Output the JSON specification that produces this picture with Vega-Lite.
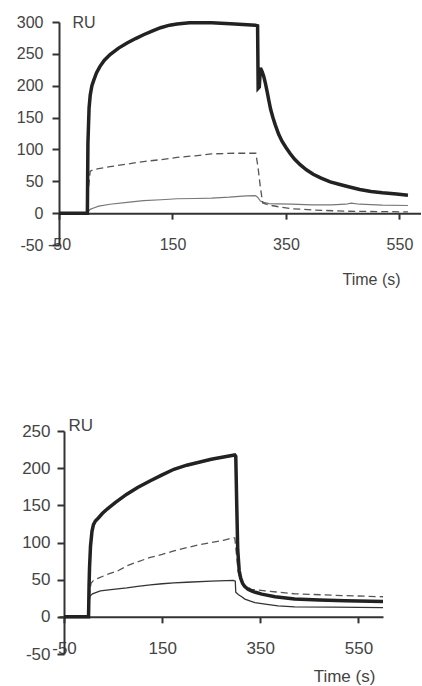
{
  "$schema": "https://vega.github.io/schema/vega-lite/v6.json",
  "background": "white",
  "padding": {"left": 0, "top": 14, "right": 0, "bottom": 0},
  "bounds": "flush",
  "spacing": 186,
  "config": {
    "view": {"stroke": null},
    "axis": {"grid": false, "domainColor": "#333", "domainWidth": 2, "tickColor": "#333", "tickWidth": 2, "labelColor": "#444", "titleColor": "#444", "labelFont": "Liberation Sans", "titleFont": "Liberation Sans", "titleFontWeight": "normal", "labelFlush": false, "labelOverlap": false, "labelExpr": "'' + datum.value"}
  },
  "datasets": {
    "A": [
      {"s":"high","t":-50,"ru":0},{"s":"high","t":-20,"ru":0},{"s":"high","t":0,"ru":0},{"s":"high","t":1,"ru":110},{"s":"high","t":3,"ru":165},{"s":"high","t":5,"ru":185},{"s":"high","t":8,"ru":200},{"s":"high","t":11,"ru":208},{"s":"high","t":16,"ru":220},{"s":"high","t":22,"ru":230},{"s":"high","t":30,"ru":240},{"s":"high","t":40,"ru":249},{"s":"high","t":55,"ru":259},{"s":"high","t":70,"ru":267},{"s":"high","t":85,"ru":274},{"s":"high","t":99,"ru":280},{"s":"high","t":115,"ru":286},{"s":"high","t":129,"ru":291},{"s":"high","t":145,"ru":295},{"s":"high","t":158,"ru":297},{"s":"high","t":180,"ru":299},{"s":"high","t":219,"ru":299},{"s":"high","t":260,"ru":297},{"s":"high","t":296,"ru":295},{"s":"high","t":300,"ru":294},{"s":"high","t":301,"ru":196},{"s":"high","t":303,"ru":198},{"s":"high","t":305,"ru":228},{"s":"high","t":308,"ru":222},{"s":"high","t":311,"ru":214},{"s":"high","t":314,"ru":203},{"s":"high","t":317,"ru":190},{"s":"high","t":320,"ru":176},{"s":"high","t":323,"ru":163},{"s":"high","t":327,"ru":150},{"s":"high","t":331,"ru":139},{"s":"high","t":337,"ru":124},{"s":"high","t":343,"ru":113},{"s":"high","t":350,"ru":103},{"s":"high","t":357,"ru":94},{"s":"high","t":365,"ru":85},{"s":"high","t":375,"ru":76},{"s":"high","t":386,"ru":68},{"s":"high","t":398,"ru":61},{"s":"high","t":412,"ru":55},{"s":"high","t":428,"ru":49},{"s":"high","t":445,"ru":45},{"s":"high","t":462,"ru":41},{"s":"high","t":480,"ru":37},{"s":"high","t":500,"ru":34},{"s":"high","t":520,"ru":32},{"s":"high","t":545,"ru":30},{"s":"high","t":565,"ru":28},
      {"s":"mid","t":-50,"ru":0},{"s":"mid","t":0,"ru":0},{"s":"mid","t":2,"ru":40},{"s":"mid","t":5,"ru":66},{"s":"mid","t":10,"ru":68},{"s":"mid","t":20,"ru":70},{"s":"mid","t":40,"ru":73},{"s":"mid","t":70,"ru":77},{"s":"mid","t":99,"ru":81},{"s":"mid","t":130,"ru":84},{"s":"mid","t":158,"ru":87.5},{"s":"mid","t":190,"ru":90},{"s":"mid","t":219,"ru":93},{"s":"mid","t":260,"ru":94},{"s":"mid","t":297,"ru":94},{"s":"mid","t":301,"ru":70},{"s":"mid","t":305,"ru":40},{"s":"mid","t":309,"ru":16},{"s":"mid","t":315,"ru":14},{"s":"mid","t":325,"ru":12},{"s":"mid","t":337,"ru":10},{"s":"mid","t":360,"ru":7},{"s":"mid","t":396,"ru":5},{"s":"mid","t":455,"ru":3},{"s":"mid","t":565,"ru":2},
      {"s":"low","t":-50,"ru":0},{"s":"low","t":0,"ru":0},{"s":"low","t":2,"ru":3},{"s":"low","t":5,"ru":6},{"s":"low","t":11,"ru":8},{"s":"low","t":20,"ru":11},{"s":"low","t":40,"ru":14},{"s":"low","t":70,"ru":17},{"s":"low","t":99,"ru":19.5},{"s":"low","t":130,"ru":21},{"s":"low","t":158,"ru":22.6},{"s":"low","t":190,"ru":23},{"s":"low","t":219,"ru":23.6},{"s":"low","t":250,"ru":25},{"s":"low","t":280,"ru":27},{"s":"low","t":296,"ru":27.5},{"s":"low","t":300,"ru":25},{"s":"low","t":305,"ru":19},{"s":"low","t":311,"ru":17},{"s":"low","t":320,"ru":15},{"s":"low","t":337,"ru":14.5},{"s":"low","t":360,"ru":14},{"s":"low","t":396,"ru":13},{"s":"low","t":430,"ru":13},{"s":"low","t":455,"ru":14},{"s":"low","t":465,"ru":15.7},{"s":"low","t":480,"ru":14},{"s":"low","t":520,"ru":12.5},{"s":"low","t":565,"ru":12}
    ],
    "B": [
      {"s":"high","t":-50,"ru":0},{"s":"high","t":0,"ru":0},{"s":"high","t":1,"ru":40},{"s":"high","t":2,"ru":66},{"s":"high","t":4,"ru":95},{"s":"high","t":7,"ru":115},{"s":"high","t":10,"ru":124},{"s":"high","t":14,"ru":129},{"s":"high","t":20,"ru":133},{"s":"high","t":28,"ru":139},{"s":"high","t":38,"ru":145},{"s":"high","t":55,"ru":154},{"s":"high","t":78,"ru":165},{"s":"high","t":100,"ru":174},{"s":"high","t":126,"ru":183},{"s":"high","t":150,"ru":191},{"s":"high","t":174,"ru":198.5},{"s":"high","t":200,"ru":204},{"s":"high","t":225,"ru":208},{"s":"high","t":250,"ru":212},{"s":"high","t":275,"ru":215},{"s":"high","t":298,"ru":217.7},{"s":"high","t":300,"ru":216},{"s":"high","t":302,"ru":150},{"s":"high","t":304,"ru":90},{"s":"high","t":307,"ru":62},{"s":"high","t":310,"ru":52},{"s":"high","t":314,"ru":45},{"s":"high","t":318,"ru":41},{"s":"high","t":325,"ru":37},{"s":"high","t":333,"ru":34.5},{"s":"high","t":340,"ru":33},{"s":"high","t":353,"ru":30.5},{"s":"high","t":380,"ru":27},{"s":"high","t":420,"ru":24},{"s":"high","t":470,"ru":22.5},{"s":"high","t":523,"ru":21.5},{"s":"high","t":600,"ru":20.6},
      {"s":"mid","t":-50,"ru":0},{"s":"mid","t":0,"ru":0},{"s":"mid","t":2,"ru":30},{"s":"mid","t":5,"ru":45},{"s":"mid","t":10,"ru":49},{"s":"mid","t":20,"ru":52},{"s":"mid","t":38,"ru":57},{"s":"mid","t":60,"ru":62},{"s":"mid","t":78,"ru":68.5},{"s":"mid","t":100,"ru":74},{"s":"mid","t":126,"ru":80},{"s":"mid","t":150,"ru":84},{"s":"mid","t":174,"ru":88.7},{"s":"mid","t":200,"ru":93},{"s":"mid","t":225,"ru":97},{"s":"mid","t":250,"ru":100},{"s":"mid","t":275,"ru":103},{"s":"mid","t":295,"ru":106.6},{"s":"mid","t":298,"ru":106},{"s":"mid","t":302,"ru":80},{"s":"mid","t":305,"ru":60},{"s":"mid","t":309,"ru":50},{"s":"mid","t":315,"ru":44},{"s":"mid","t":332,"ru":37},{"s":"mid","t":360,"ru":35},{"s":"mid","t":420,"ru":31},{"s":"mid","t":500,"ru":29},{"s":"mid","t":600,"ru":27},
      {"s":"low","t":-50,"ru":0},{"s":"low","t":0,"ru":0},{"s":"low","t":1,"ru":20},{"s":"low","t":3,"ru":28},{"s":"low","t":8,"ru":31},{"s":"low","t":24,"ru":35},{"s":"low","t":50,"ru":37},{"s":"low","t":78,"ru":39},{"s":"low","t":100,"ru":41},{"s":"low","t":126,"ru":43},{"s":"low","t":150,"ru":44.5},{"s":"low","t":174,"ru":45.7},{"s":"low","t":200,"ru":46.5},{"s":"low","t":250,"ru":48},{"s":"low","t":295,"ru":49},{"s":"low","t":299,"ru":48},{"s":"low","t":300,"ru":33},{"s":"low","t":305,"ru":30},{"s":"low","t":312,"ru":27},{"s":"low","t":318.6,"ru":23.8},{"s":"low","t":330,"ru":21},{"s":"low","t":339,"ru":19},{"s":"low","t":360,"ru":17},{"s":"low","t":386,"ru":14.8},{"s":"low","t":420,"ru":13.5},{"s":"low","t":500,"ru":13},{"s":"low","t":600,"ru":12.5}
    ]
  },
  "vconcat": [
    {
      "width": 362,
      "height": 223,
      "data": {"name": "A"},
      "encoding": {
        "x": {"field": "t", "type": "quantitative", "scale": {"domain": [-50, 588], "nice": false, "zero": false},
          "axis": {"values": [-50, 150, 350, 550], "offset": -31.86, "tickSize": 6, "labelPadding": 17, "labelFontSize": 16, "title": "Time (s)", "titleFontSize": 16, "titleX": 312, "titleY": 66, "titleAlign": "center", "titleBaseline": "middle"}},
        "y": {"field": "ru", "type": "quantitative", "scale": {"domain": [-50, 300], "nice": false, "zero": false},
          "axis": {"values": [-50, 0, 50, 100, 150, 200, 250, 300], "tickSize": 7, "labelPadding": 9, "labelFontSize": 16, "title": "RU", "titleAngle": 0, "titleX": 13, "titleY": 0, "titleAlign": "left", "titleBaseline": "middle", "titleFontSize": 16, "minExtent": 59, "maxExtent": 59}}
      },
      "layer": [
        {"transform": [{"filter": "datum.s == 'low'"}], "mark": {"type": "line", "color": "#777", "strokeWidth": 1.2}},
        {"transform": [{"filter": "datum.s == 'mid'"}], "mark": {"type": "line", "color": "#555", "strokeWidth": 1.3, "strokeDash": [7, 4]}},
        {"transform": [{"filter": "datum.s == 'high'"}], "mark": {"type": "line", "color": "#222", "strokeWidth": 3.5}},
        {"data": {"values": [{"label": "A"}]}, "mark": {"type": "text", "clip": true, "fontSize": 16, "font": "Liberation Sans", "color": "#444", "align": "center", "baseline": "middle"},
          "encoding": {"x": {"datum": 592}, "y": {"datum": 292}, "text": {"field": "label"}}}
      ]
    },
    {
      "width": 324,
      "height": 223,
      "data": {"name": "B"},
      "encoding": {
        "x": {"field": "t", "type": "quantitative", "scale": {"domain": [-60.2, 600], "nice": false, "zero": false},
          "axis": {"values": [-50, 150, 350, 550], "offset": -37.17, "tickSize": 6, "labelPadding": 18, "labelFontSize": 17, "title": "Time (s)", "titleFontSize": 17, "titleX": 285, "titleY": 60, "titleAlign": "center", "titleBaseline": "middle"}},
        "y": {"field": "ru", "type": "quantitative", "scale": {"domain": [-50, 250], "nice": false, "zero": false},
          "axis": {"values": [-50, 0, 50, 100, 150, 200, 250], "offset": -5, "tickSize": 7, "labelPadding": 7, "labelFontSize": 17, "title": "RU", "titleAngle": 0, "titleX": 4, "titleY": -6, "titleAlign": "left", "titleBaseline": "middle", "titleFontSize": 17}}
      },
      "layer": [
        {"transform": [{"filter": "datum.s == 'low'"}], "mark": {"type": "line", "color": "#333", "strokeWidth": 1.3}},
        {"transform": [{"filter": "datum.s == 'mid'"}], "mark": {"type": "line", "color": "#555", "strokeWidth": 1.3, "strokeDash": [7, 4]}},
        {"transform": [{"filter": "datum.s == 'high'"}], "mark": {"type": "line", "color": "#222", "strokeWidth": 3.5}},
        {"data": {"values": [{"label": "B"}]}, "mark": {"type": "text", "fontSize": 17, "font": "Liberation Sans", "color": "#444", "align": "center", "baseline": "middle"},
          "encoding": {"x": {"datum": 614}, "y": {"datum": 262}, "text": {"field": "label"}}}
      ]
    }
  ]
}
